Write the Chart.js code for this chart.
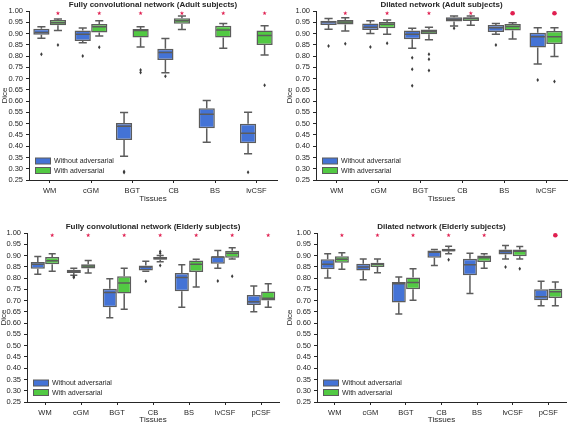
<!DOCTYPE html>
<html lang="en">
<head>
<meta charset="UTF-8">
<title>Dice scores with and without adversarial training</title>
<script src="https://cdn.jsdelivr.net/npm/chart.js"></script>
<style>
  html, body { margin: 0; padding: 0; background: #fff; }
  body { position: relative; width: 568px; height: 424px; overflow: hidden; }
  canvas { position: absolute; }
</style>
</head>
<body>
<canvas id="p1"></canvas>
<canvas id="p2"></canvas>
<canvas id="p3"></canvas>
<canvas id="p4"></canvas>

<script>
// categories
const tissuesAdult = ['WM', 'cGM', 'BGT', 'CB', 'BS', 'lvCSF'];
const tissuesElderly = ['WM', 'cGM', 'BGT', 'CB', 'BS', 'lvCSF', 'pCSF'];
const seriesNames = ['Without adversarial', 'With adversarial'];

// each row: [lower whisker, q1, median, q3, upper whisker]
const fcnAdultWithout = [
    [0.879, 0.895, 0.905, 0.921, 0.930],
    [0.859, 0.867, 0.897, 0.913, 0.925],
    [0.355, 0.428, 0.488, 0.503, 0.550],
    [0.726, 0.783, 0.816, 0.833, 0.878],
    [0.417, 0.480, 0.542, 0.568, 0.603],
    [0.367, 0.413, 0.458, 0.500, 0.551]
];
const fcnAdultWithoutOut = [[0.808], [0.800], [0.283, 0.288], [0.710], [], [0.284]];
const fcnAdultWith = [
    [0.913, 0.937, 0.948, 0.960, 0.965],
    [0.889, 0.905, 0.930, 0.942, 0.957],
    [0.840, 0.882, 0.913, 0.920, 0.930],
    [0.918, 0.943, 0.957, 0.968, 0.978],
    [0.835, 0.882, 0.916, 0.934, 0.945],
    [0.805, 0.849, 0.891, 0.913, 0.935]
];
const fcnAdultWithOut = [[0.849], [0.839], [0.738, 0.727], [], [], [0.670]];

const dilAdultWithout = [
    [0.919, 0.938, 0.951, 0.957, 0.967],
    [0.900, 0.916, 0.928, 0.945, 0.957],
    [0.835, 0.875, 0.897, 0.913, 0.923],
    [0.933, 0.953, 0.963, 0.972, 0.978],
    [0.897, 0.907, 0.926, 0.938, 0.945],
    [0.765, 0.838, 0.886, 0.904, 0.926]
];
const dilAdultWithoutOut = [[0.845], [0.840], [0.793, 0.742, 0.668], [0.923], [0.849], [0.694]];
const dilAdultWith = [
    [0.911, 0.940, 0.951, 0.960, 0.970],
    [0.897, 0.923, 0.941, 0.951, 0.960],
    [0.872, 0.897, 0.908, 0.918, 0.928],
    [0.937, 0.956, 0.967, 0.972, 0.978],
    [0.876, 0.913, 0.931, 0.942, 0.948],
    [0.798, 0.854, 0.886, 0.911, 0.926]
];
const dilAdultWithOut = [[0.855], [0.857], [0.808, 0.786, 0.736], [], [], [0.687]];

const fcnElderWithout = [
    [0.817, 0.841, 0.861, 0.871, 0.896],
    [0.812, 0.822, 0.830, 0.837, 0.844],
    [0.624, 0.670, 0.736, 0.753, 0.797],
    [0.830, 0.834, 0.849, 0.856, 0.875],
    [0.670, 0.742, 0.802, 0.822, 0.859],
    [0.844, 0.864, 0.893, 0.897, 0.922],
    [0.650, 0.680, 0.695, 0.725, 0.765]
];
const fcnElderWithoutOut = [[], [0.802, 0.806], [], [0.786], [], [0.787], []];
const fcnElderWith = [
    [0.830, 0.861, 0.877, 0.893, 0.908],
    [0.822, 0.842, 0.853, 0.861, 0.878],
    [0.662, 0.731, 0.778, 0.808, 0.844],
    [0.872, 0.881, 0.887, 0.893, 0.900],
    [0.760, 0.827, 0.861, 0.878, 0.883],
    [0.885, 0.890, 0.910, 0.921, 0.934],
    [0.670, 0.700, 0.710, 0.740, 0.775]
];
const fcnElderWithOut = [[], [], [], [0.918, 0.910, 0.856], [], [0.808], []];

const dilElderWithout = [
    [0.800, 0.839, 0.861, 0.883, 0.908],
    [0.793, 0.834, 0.849, 0.864, 0.885],
    [0.640, 0.692, 0.775, 0.783, 0.805],
    [0.856, 0.890, 0.915, 0.922, 0.927],
    [0.731, 0.812, 0.859, 0.886, 0.910],
    [0.885, 0.905, 0.918, 0.927, 0.944],
    [0.677, 0.702, 0.717, 0.750, 0.786]
];
const dilElderWithoutOut = [[], [], [], [], [], [0.849], []];
const dilElderWith = [
    [0.839, 0.868, 0.883, 0.897, 0.912],
    [0.824, 0.849, 0.861, 0.868, 0.885],
    [0.702, 0.750, 0.780, 0.802, 0.841],
    [0.908, 0.918, 0.922, 0.930, 0.941],
    [0.844, 0.871, 0.890, 0.900, 0.908],
    [0.885, 0.897, 0.919, 0.927, 0.940],
    [0.677, 0.712, 0.739, 0.753, 0.783]
];
const dilElderWithOut = [[], [], [], [0.881], [], [0.841], []];

// significance markers above each tissue: 0 none, 1 star, 2 double (drawn as dot)
const fcnAdultSig = [1, 1, 1, 1, 1, 1];
const dilAdultSig = [1, 1, 1, 1, 2, 2];
const fcnElderSig = [1, 1, 1, 1, 1, 1, 1];
const dilElderSig = [1, 1, 1, 1, 1, 0, 2];

const BLUE = '#4473d6';
const GREEN = '#52c943';
const EDGE = '#5c5c5c';
const AXIS = '#262626';
const STAR = '#e01f50';
const FONT = "'Liberation Sans', Arial, Helvetica, sans-serif";

// draws whiskers, medians, fliers and significance stars on top of the floating bars
const boxPlugin = {
    id: 'boxParts',
    afterDatasetsDraw(chart) {
        const ctx = chart.ctx;
        const y = chart.scales.y;
        chart.data.datasets.forEach((ds, d) => {
            const meta = chart.getDatasetMeta(d);
            meta.data.forEach((bar, i) => {
                const [lo, q1, med, q3, hi] = ds.stats[i];
                const cx = bar.x;
                const half = bar.width / 2;
                const cap = bar.width / 4;
                ctx.save();
                ctx.strokeStyle = EDGE;
                ctx.lineWidth = 1.5;
                ctx.beginPath();
                ctx.moveTo(cx, y.getPixelForValue(q3));
                ctx.lineTo(cx, y.getPixelForValue(hi));
                ctx.moveTo(cx - cap, y.getPixelForValue(hi));
                ctx.lineTo(cx + cap, y.getPixelForValue(hi));
                ctx.moveTo(cx, y.getPixelForValue(q1));
                ctx.lineTo(cx, y.getPixelForValue(lo));
                ctx.moveTo(cx - cap, y.getPixelForValue(lo));
                ctx.lineTo(cx + cap, y.getPixelForValue(lo));
                ctx.moveTo(cx - half + 1, y.getPixelForValue(med));
                ctx.lineTo(cx + half - 1, y.getPixelForValue(med));
                ctx.stroke();
                ctx.fillStyle = '#3c3c3c';
                ds.outliers[i].forEach(v => {
                    const py = y.getPixelForValue(v);
                    ctx.beginPath();
                    ctx.moveTo(cx, py - 2);
                    ctx.lineTo(cx + 1.3, py);
                    ctx.lineTo(cx, py + 2);
                    ctx.lineTo(cx - 1.3, py);
                    ctx.closePath();
                    ctx.fill();
                });
                ctx.restore();
            });
        });

        const sig = chart.options.plugins.boxParts.sig;
        const greens = chart.getDatasetMeta(1).data;
        const sy = y.getPixelForValue(0.99);
        ctx.save();
        ctx.fillStyle = STAR;
        sig.forEach((s, i) => {
            if (!s) return;
            const sx = greens[i].x;
            ctx.beginPath();
            if (s === 2) {
                ctx.arc(sx, sy, 2.3, 0, Math.PI * 2);
            } else {
                for (let k = 0; k < 10; k++) {
                    const r = k % 2 ? 0.9 : 2.3;
                    const a = -Math.PI / 2 + k * Math.PI / 5;
                    ctx.lineTo(sx + r * Math.cos(a), sy + r * Math.sin(a));
                }
                ctx.closePath();
            }
            ctx.fill();
        });
        ctx.restore();
    },
    afterDraw(chart) {
        const ctx = chart.ctx;
        const area = chart.chartArea;
        const opts = chart.options.plugins.boxParts;
        ctx.save();
        // panel title, centred over the plot area
        ctx.fillStyle = AXIS;
        ctx.font = 'bold 8px ' + FONT;
        ctx.textAlign = 'center';
        ctx.textBaseline = 'middle';
        ctx.fillText(opts.title, (area.left + area.right) / 2, area.top - 6);
        // legend inside lower left corner
        ctx.font = '7px ' + FONT;
        ctx.textAlign = 'left';
        chart.data.datasets.forEach((ds, d) => {
            const ly = area.bottom - 19 + d * 9.5;
            ctx.fillStyle = EDGE;
            ctx.fillRect(area.left + 6, ly - 3.5, 16, 7);
            ctx.fillStyle = ds.backgroundColor;
            ctx.fillRect(area.left + 7, ly - 2.5, 14, 5);
            ctx.fillStyle = AXIS;
            ctx.fillText(ds.label, area.left + 25, ly + 0.5);
        });
        ctx.restore();
    }
};

const panels = [
    { id: 'p1', title: 'Fully convolutional network (Adult subjects)', labels: tissuesAdult,
      without: fcnAdultWithout, withoutOut: fcnAdultWithoutOut, withAdv: fcnAdultWith, withOut: fcnAdultWithOut, sig: fcnAdultSig,
      left: 0, top: 0, width: 280, height: 206, yWidth: 29, xHeight: 26, padTop: 11, padRight: 3, yTitlePad: 0, xTitlePad: 2 },
    { id: 'p2', title: 'Dilated network (Adult subjects)', labels: tissuesAdult,
      without: dilAdultWithout, withoutOut: dilAdultWithoutOut, withAdv: dilAdultWith, withOut: dilAdultWithOut, sig: dilAdultSig,
      left: 284, top: 0, width: 286, height: 206, yWidth: 32, xHeight: 26, padTop: 11, padRight: 3, yTitlePad: 1.2, xTitlePad: 2 },
    { id: 'p3', title: 'Fully convolutional network (Elderly subjects)', labels: tissuesElderly,
      without: fcnElderWithout, withoutOut: fcnElderWithoutOut, withAdv: fcnElderWith, withOut: fcnElderWithOut, sig: fcnElderSig,
      left: 0, top: 212, width: 282, height: 212, yWidth: 27, xHeight: 22, padTop: 21, padRight: 3, yTitlePad: -1.5, xTitlePad: -1 },
    { id: 'p4', title: 'Dilated network (Elderly subjects)', labels: tissuesElderly,
      without: dilElderWithout, withoutOut: dilElderWithoutOut, withAdv: dilElderWith, withOut: dilElderWithOut, sig: dilElderSig,
      left: 284, top: 212, width: 285, height: 212, yWidth: 33, xHeight: 22, padTop: 21, padRight: 3, yTitlePad: 1.2, xTitlePad: -1 }
];

function makePanel(p) {
    const canvas = document.getElementById(p.id);
    canvas.width = p.width;
    canvas.height = p.height;
    canvas.style.left = p.left + 'px';
    canvas.style.top = p.top + 'px';

    const boxSet = (label, stats, outliers, color) => ({
        label: label,
        data: stats.map(s => [s[1], s[3]]),
        stats: stats,
        outliers: outliers,
        backgroundColor: color,
        borderColor: EDGE,
        borderWidth: 1.5,
        borderSkipped: false,
        categoryPercentage: 0.8,
        barPercentage: 0.98
    });

    return new Chart(canvas, {
        type: 'bar',
        data: {
            labels: p.labels,
            datasets: [
                boxSet(seriesNames[0], p.without, p.withoutOut, BLUE),
                boxSet(seriesNames[1], p.withAdv, p.withOut, GREEN)
            ]
        },
        options: {
            responsive: false,
            animation: false,
            events: [],
            devicePixelRatio: 1,
            layout: { padding: { top: p.padTop, right: p.padRight, left: 0, bottom: 0 } },
            plugins: {
                legend: { display: false },
                tooltip: { enabled: false },
                boxParts: { title: p.title, sig: p.sig }
            },
            scales: {
                x: {
                    offset: true,
                    grid: { offset: false, drawOnChartArea: false, tickLength: 3, tickColor: AXIS },
                    border: { color: AXIS, width: 1 },
                    ticks: { color: AXIS, font: { family: FONT, size: 7.5 }, padding: 3, maxRotation: 0, autoSkip: false },
                    title: { display: true, text: 'Tissues', color: AXIS, font: { family: FONT, size: 8 },
                             padding: { top: 0, bottom: p.xTitlePad } },
                    afterFit: s => { s.height = p.xHeight; }
                },
                y: {
                    min: 0.25,
                    max: 1.0,
                    grid: { drawOnChartArea: false, tickLength: 3, tickColor: AXIS },
                    border: { color: AXIS, width: 1 },
                    ticks: { stepSize: 0.05, maxTicksLimit: 20, autoSkip: false, color: AXIS, padding: 3,
                             font: { family: FONT, size: 7.5 }, callback: v => v.toFixed(2) },
                    title: { display: true, text: 'Dice', color: AXIS, font: { family: FONT, size: 8 },
                             padding: { top: p.yTitlePad, bottom: 0 } },
                    afterFit: s => { s.width = p.yWidth; }
                }
            }
        },
        plugins: [boxPlugin]
    });
}

panels.forEach(makePanel);
</script>
</body>
</html>
